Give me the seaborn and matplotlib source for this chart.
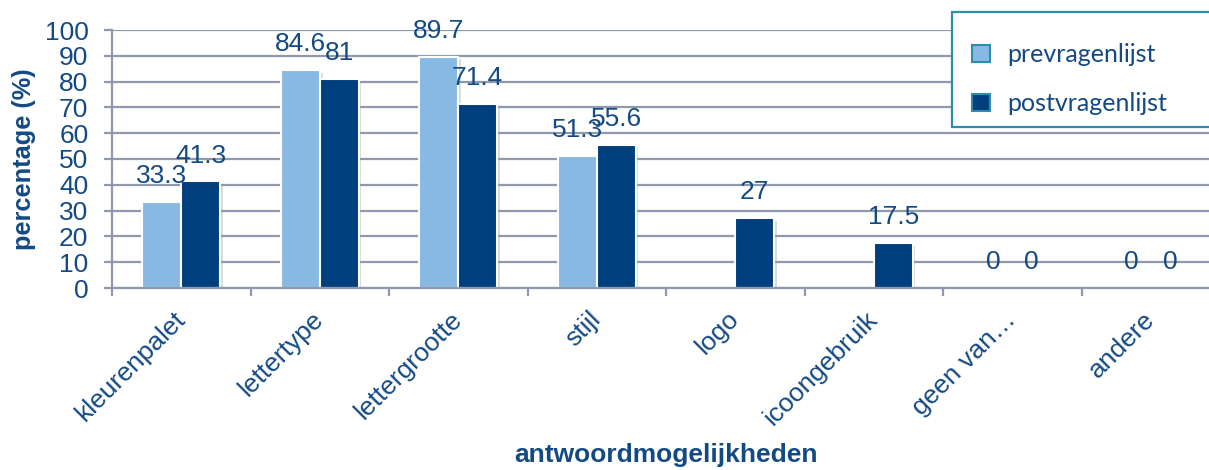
import numpy as np
import pandas as pd
import matplotlib
matplotlib.use("Agg")
import matplotlib.pyplot as plt
import seaborn as sns
from matplotlib.patches import Patch, Rectangle
from matplotlib.ticker import FixedLocator
import matplotlib.patheffects as pe

# ---- data ----
categories = ['kleurenpalet', 'lettertype', 'lettergrootte', 'stijl', 'logo',
              'icoongebruik', 'geen van\u2026', 'andere']
pre_values = [33.3, 84.6, 89.7, 51.3, np.nan, np.nan, 0, 0]
post_values = [41.3, 81, 71.4, 55.6, 27, 17.5, 0, 0]
series_names = ['prevragenlijst', 'postvragenlijst']
y_ticks = list(range(0, 101, 10))

# ---- style ----
LIGHT = '#88B9E3'
DARK = '#003F7D'
TEXT = '#144A84'
GRID = '#8F98AD'
TEAL = '#2E8CB0'

sns.set_style('white')
plt.rcParams['font.family'] = ['Liberation Sans', 'DejaVu Sans']

df = pd.DataFrame({
    'categorie': categories * 2,
    'reeks': [series_names[0]] * len(categories) + [series_names[1]] * len(categories),
    'waarde': pre_values + post_values,
})

W, H = 1209, 470
fig = plt.figure(figsize=(W / 100, H / 100), dpi=100)
x0, x1, ytop, ybot = 112, 1220, 30, 288
ax = fig.add_axes([x0 / W, 1 - ybot / H, (x1 - x0) / W, (ybot - ytop) / H])

sns.barplot(data=df, x='categorie', y='waarde', hue='reeks', order=categories,
            hue_order=series_names, palette=[LIGHT, DARK], saturation=1,
            width=0.56, edgecolor='white', linewidth=1.5, ax=ax, legend=False,
            zorder=3)

shadow = [pe.SimplePatchShadow(offset=(2, -2), shadow_rgbFace='#999999', alpha=0.35), pe.Normal()]
for cont in ax.containers:
    for bar in cont:
        h = bar.get_height()
        if h is None or np.isnan(h):
            continue
        if h > 0:
            bar.set_path_effects(shadow)
        else:
            bar.set_linewidth(0)
        ax.annotate(f'{h:g}', (bar.get_x() + bar.get_width() / 2, h),
                    xytext=(0, 10), textcoords='offset points', ha='center',
                    va='bottom', fontsize=19, color=TEXT, zorder=5)

ax.set_ylim(0, 100)
ax.set_xlim(-0.5, len(categories) - 0.5)
ax.set_yticks(y_ticks)
ax.yaxis.grid(True, color=GRID, linewidth=1.6, zorder=0)
ax.xaxis.grid(False)
ax.set_axisbelow(True)
for s in ['top', 'right']:
    ax.spines[s].set_visible(False)
for s in ['left', 'bottom']:
    ax.spines[s].set_color(GRID)
    ax.spines[s].set_linewidth(1.6)
    ax.spines[s].set_zorder(4)

ax.tick_params(axis='y', which='major', length=6, width=1.6, color=GRID,
               labelsize=19, labelcolor=TEXT, pad=11, left=True, direction='out')
ax.xaxis.set_minor_locator(FixedLocator(np.arange(-0.5, len(categories), 1.0)))
ax.tick_params(axis='x', which='minor', length=6, width=1.6, color=GRID,
               bottom=True, direction='out')
ax.tick_params(axis='x', which='major', length=0, pad=20, labelsize=19,
               labelcolor=TEXT)
ax.set_xticks(range(len(categories)))
ax.set_xticklabels(categories, rotation=45, ha='right', va='center',
                   rotation_mode='anchor')

ax.set_ylabel('percentage (%)', fontsize=18.3, fontweight='bold', color=TEXT)
ax.yaxis.set_label_coords(-0.0686, 0.5)
ax.set_xlabel('antwoordmogelijkheden', fontsize=19, fontweight='bold', color=TEXT)
ax.xaxis.set_label_coords(0.5, -0.6)
ax.xaxis.label.set_va('top')

# legend box
rect = Rectangle((952 / W, 1 - 127 / H), 280 / W, 115 / H, transform=fig.transFigure,
                 facecolor='white', edgecolor=TEAL, linewidth=1.6, zorder=4)
fig.patches.append(rect)
handles = [Patch(facecolor=LIGHT, edgecolor=TEAL, linewidth=1.5),
           Patch(facecolor=DARK, edgecolor=TEAL, linewidth=1.5)]
leg = fig.legend(handles, series_names, loc='upper left',
                 bbox_to_anchor=(972 / W, 1 - 43 / H), frameon=False,
                 prop={'family': ['Lato', 'DejaVu Sans'], 'size': 18},
                 handlelength=0.7, handleheight=0.7, handletextpad=0.7,
                 labelspacing=1.05, borderpad=0, borderaxespad=0)
for t in leg.get_texts():
    t.set_color(TEXT)
leg.set_zorder(6)

fig.savefig('out.png', dpi=100)
